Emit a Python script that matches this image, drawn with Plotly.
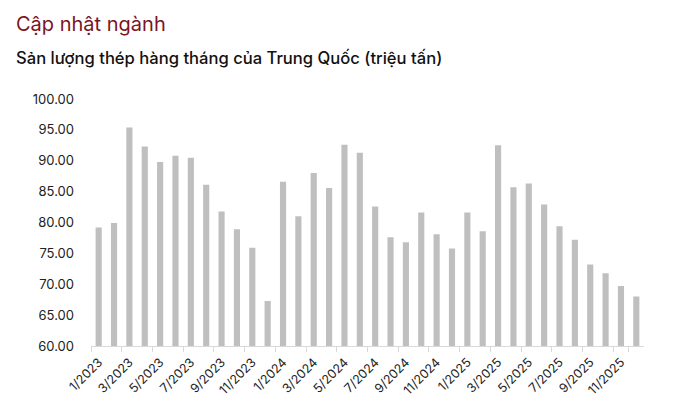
import plotly.graph_objects as go

months = [f"{m}/{y}" for y in (2023, 2024, 2025) for m in range(1, 13)]
output_mt = [
    79.2, 79.9, 95.4, 92.3, 89.8, 90.8, 90.5, 86.1, 81.8, 78.9, 75.9, 67.3,
    86.6, 81.0, 88.0, 85.6, 92.6, 91.3, 82.6, 77.6, 76.8, 81.6, 78.1, 75.8,
    81.6, 78.6, 92.5, 85.7, 86.3, 82.9, 79.4, 77.2, 73.2, 71.8, 69.7, 68.0,
]
tick_labels = months[::2]

TITLE_RED = "#7a1424"
BAR_GREY = "#bfbfbf"
AXIS_GREY = "#d9d9d9"

fig = go.Figure(
    go.Bar(
        x=months,
        y=output_mt,
        width=0.4,
        marker=dict(color=BAR_GREY, line=dict(width=0)),
        hovertemplate="%{x}: %{y:.2f}<extra></extra>",
    )
)

fig.update_layout(
    width=690,
    height=417,
    paper_bgcolor="white",
    plot_bgcolor="white",
    font=dict(family="Inter, Roboto, sans-serif", size=13, color="#222222"),
    margin=dict(l=91, r=46, t=99, b=71),
    showlegend=False,
    title=dict(
        text="Cập nhật ngành",
        x=16 / 690,
        xanchor="left",
        y=1 - 24 / 417,
        yanchor="middle",
        font=dict(size=20, color=TITLE_RED),
    ),
    annotations=[
        dict(
            text="Sản lượng thép hàng tháng của Trung Quốc (triệu tấn)",
            xref="paper",
            yref="paper",
            x=-77 / 553,
            y=(247 + 41) / 247,
            xanchor="left",
            yanchor="middle",
            showarrow=False,
            font=dict(size=16.6, color="#111111", weight=500),
        )
    ],
)

fig.update_xaxes(
    type="category",
    tickmode="array",
    tickvals=tick_labels,
    ticktext=tick_labels,
    tickson="boundaries",
    ticks="outside",
    ticklen=5,
    tickcolor=AXIS_GREY,
    tickangle=-45,
    ticklabelstandoff=3,
    tickfont=dict(size=12.5, color="#222222"),
    showline=True,
    linecolor=AXIS_GREY,
    linewidth=1,
    showgrid=False,
    range=[-0.5, 35.5],
)
fig.update_yaxes(
    range=[60, 100],
    dtick=5,
    tickformat=".2f",
    showgrid=False,
    zeroline=False,
    showline=False,
    ticks="",
    ticklabelstandoff=16,
    tickfont=dict(size=13, color="#222222"),
)

# the page body has a default 8px margin; drop it so the figure sits at 0,0
fig.write_html(
    "out.html",
    config={"displayModeBar": False},
    post_script="document.body.style.margin='0';",
)
